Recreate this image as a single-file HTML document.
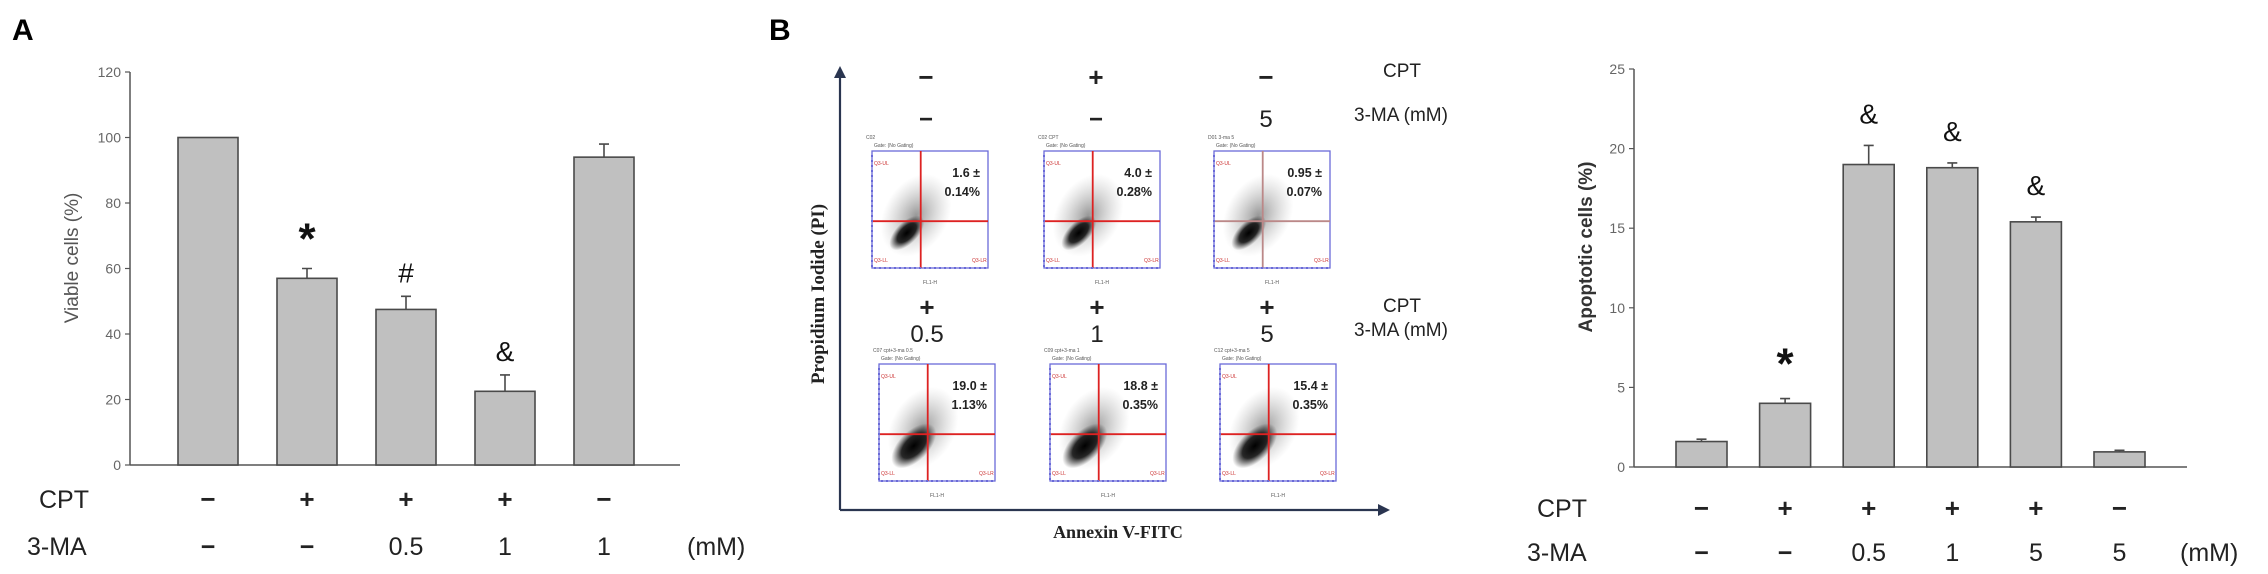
<!DOCTYPE html>
<html><head><meta charset="utf-8"><style>
html,body{margin:0;padding:0;background:#fff;}
svg{display:block;font-family:"Liberation Sans",sans-serif;}
</style></head><body>
<svg id="fig" width="2268" height="574" viewBox="0 0 2268 574" xmlns="http://www.w3.org/2000/svg">
<defs>
<radialGradient id="blob" cx="50%" cy="50%" r="50%">
<stop offset="0%" stop-color="#000" stop-opacity="1"/>
<stop offset="55%" stop-color="#111" stop-opacity="0.9"/>
<stop offset="100%" stop-color="#333" stop-opacity="0"/>
</radialGradient>
<radialGradient id="haze" cx="50%" cy="50%" r="50%">
<stop offset="0%" stop-color="#444" stop-opacity="0.55"/>
<stop offset="100%" stop-color="#888" stop-opacity="0"/>
</radialGradient>
</defs>
<text x="12" y="40" font-size="30" font-weight="bold">A</text>
<text x="769" y="40" font-size="30" font-weight="bold">B</text>
<g id="chartA"></g>
<g id="flow"></g>
<g id="chartC"></g>
</svg>
<script>
// Panel A data
const aValues = [100, 57, 47.5, 22.5, 94];
const aErrors = [0, 3, 4, 5, 4];
const aMarks = ["", "*", "#", "&", ""];
const aCpt = ["−", "+", "+", "+", "−"];
const aMa = ["−", "−", "0.5", "1", "1"];
const aTicks = [0, 20, 40, 60, 80, 100, 120];
// Panel C data
const cValues = [1.6, 4.0, 19.0, 18.8, 15.4, 0.95];
const cErrors = [0.15, 0.3, 1.2, 0.3, 0.3, 0.1];
const cMarks = ["", "*", "&", "&", "&", ""];
const cCpt = ["−", "+", "+", "+", "+", "−"];
const cMa = ["−", "−", "0.5", "1", "5", "5"];
const cTicks = [0, 5, 10, 15, 20, 25];
// Flow data
const flowCpt = ["−", "+", "−", "+", "+", "+"];
const flowMa = ["−", "−", "5", "0.5", "1", "5"];
const flowMean = ["1.6 ±", "4.0 ±", "0.95 ±", "19.0 ±", "18.8 ±", "15.4 ±"];
const flowSd = ["0.14%", "0.28%", "0.07%", "1.13%", "0.35%", "0.35%"];
const flowNames = ["C02", "C02 CPT", "D01 3-ma 5", "C07 cpt+3-ma 0.5", "C09 cpt+3-ma 1", "C12 cpt+3-ma 5"];

const NS = "http://www.w3.org/2000/svg";
function mk(parent, tag, attrs, text){
  const e = document.createElementNS(NS, tag);
  for (const k in attrs) e.setAttribute(k, attrs[k]);
  if (text !== undefined) e.textContent = text;
  parent.appendChild(e);
  return e;
}

function barChart(g, cfg, values, errors, marks, cpt, ma, ticks){
  const y = v => cfg.y0 - v / cfg.max * (cfg.y0 - cfg.yTop);
  const cx = i => cfg.x0 + i * cfg.step;
  const ax = mk(g, "line", {x1:cfg.axX, y1:cfg.yTop, x2:cfg.axX, y2:cfg.y0, stroke:"#555", "stroke-width":1.5});
  
  
  const bx = mk(g, "line", {x1:cfg.axX, y1:cfg.y0, x2:cfg.axEnd, y2:cfg.y0, stroke:"#555", "stroke-width":1.5});
  
  
  ticks.forEach(t => {
    const tk = mk(g, "line", {x1:cfg.axX-5, y1:y(t), x2:cfg.axX, y2:y(t), stroke:"#555", "stroke-width":1.2});
    
    
    const tl = mk(g, "text", {x:cfg.axX-9, y:y(t)+5, "font-size":14, fill:"#666", "text-anchor":"end"}, t);
    
    
  });
  const yl = mk(g, "text", {x:0, y:0, "font-size":cfg.ylSize, fill:cfg.ylColor, "font-weight":cfg.ylWeight, "text-anchor":"middle", transform:`translate(${cfg.ylX},${cfg.ylY}) rotate(-90)`}, cfg.ylabel);
  
  
  values.forEach((v, i) => {
    const b = mk(g, "rect", {x:cx(i)-cfg.bw/2, y:y(v), width:cfg.bw, height:cfg.y0-y(v), fill:"#c0c0c0", stroke:"#4a4a4a", "stroke-width":1.6});
    
    
    if (errors[i] > 0){
      const top = y(v + errors[i]);
      const el = mk(g, "path", {d:`M${cx(i)},${y(v)} V${top} M${cx(i)-5},${top} H${cx(i)+5}`, stroke:"#4a4a4a", "stroke-width":1.6, fill:"none"});
      
      
    }
    if (marks[i]){
      const star = marks[i] === "*";
      const top = y(v + errors[i]);
      const m = mk(g, "text", {x:cx(i), y: star ? top + cfg.starOff : top + cfg.markOff, "font-size":star?44:28, "text-anchor":"middle", fill:"#111", "font-weight":star?"bold":"normal"}, marks[i]);
      
      
    }
    const c = mk(g, "text", {x:cx(i), y:cfg.cptY+9, "font-size":26, "font-weight":"bold", "text-anchor":"middle", fill:"#222"}, cpt[i]);
    
    
    const m2 = mk(g, "text", {x:cx(i), y:cfg.maY+9, "font-size":25, "text-anchor":"middle", fill:"#222", "font-weight":ma[i]==="−"?"bold":"normal"}, ma[i]);
    
    
  });
  const l1 = mk(g, "text", {x:cfg.cptX, y:cfg.cptY+9, "font-size":25, fill:"#222"}, "CPT");
  
  
  const l2 = mk(g, "text", {x:cfg.maX, y:cfg.maY+9, "font-size":25, fill:"#222"}, "3-MA");
  
  
  const l3 = mk(g, "text", {x:cfg.mmX, y:cfg.maY+9, "font-size":25, fill:"#222"}, "(mM)");
  
  
}

barChart(document.getElementById("chartA"), {
  axX:130, axEnd:680, y0:465, yTop:72, max:120, x0:208, step:99, bw:60,
  ylabel:"Viable cells (%)", ylX:78, ylY:258, ylSize:19, ylColor:"#555", ylWeight:"normal",
  cptY:499, maY:546, cptX:39, maX:27, mmX:687, starOff:-15, markOff:-14
}, aValues, aErrors, aMarks, aCpt, aMa, aTicks);

barChart(document.getElementById("chartC"), {
  axX:1634, axEnd:2187, y0:467, yTop:69, max:25, x0:1701.5, step:83.6, bw:51,
  ylabel:"Apoptotic cells (%)", ylX:1592, ylY:247, ylSize:19, ylColor:"#333", ylWeight:"bold",
  cptY:508, maY:552, cptX:1537, maX:1527, mmX:2180, starOff:-20, markOff:-22
}, cValues, cErrors, cMarks, cCpt, cMa, cTicks);

// Flow panel
const fg = document.getElementById("flow");
const axes = mk(fg, "path", {d:"M840,510 V72 M840,510 H1384", stroke:"#2a3550", "stroke-width":2.2, fill:"none"});


const arr = mk(fg, "path", {d:"M834,78 L840,66 L846,78 Z M1378,504 L1390,510 L1378,516 Z", fill:"#2a3550"});


const pil = mk(fg, "text", {x:0, y:0, "font-family":"Liberation Serif, serif", "font-size":19, "font-weight":"bold", fill:"#222", "text-anchor":"middle", transform:"translate(824,294) rotate(-90)"}, "Propidium Iodide (PI)");


const axl = mk(fg, "text", {x:1118, y:538, "font-family":"Liberation Serif, serif", "font-size":18, "font-weight":"bold", fill:"#222", "text-anchor":"middle"}, "Annexin V-FITC");


[[70,114],[305,329]].forEach((r, k) => {
  const t1 = mk(fg, "text", {x:1383, y:r[0]+7, "font-size":19, fill:"#222"}, "CPT");
  
  
  const t2 = mk(fg, "text", {x:1354, y:r[1]+7, "font-size":19, fill:"#222"}, "3-MA (mM)");
  
  
});
const colX = [[926,1096,1266],[927,1097,1267]];
const boxX = [[872,1044,1214],[879,1050,1220]];
const rowCpt = [77,307], rowMa = [118,333], boxY = [151,364];
flowCpt.forEach((c, i) => {
  const r = Math.floor(i/3), k = i%3;
  const t = mk(fg, "text", {x:colX[r][k], y:rowCpt[r]+9, "font-size":26, "font-weight":"bold", "text-anchor":"middle", fill:"#222"}, c);
  
  
  const m = mk(fg, "text", {x:colX[r][k], y:rowMa[r]+9, "font-size":24, "font-weight":flowMa[i]==="−"?"bold":"normal", "text-anchor":"middle", fill:"#222"}, flowMa[i]);
  
  
  const x = boxX[r][k], y = boxY[r], w = 116, h = 117;
  const g = mk(fg, "g", {});
  
  
  mk(g, "text", {x:x-6, y:y-12, "font-size":5, fill:"#555"}, flowNames[i]);
  mk(g, "text", {x:x+2, y:y-4, "font-size":5, fill:"#555"}, "Gate: (No Gating)");
  mk(g, "ellipse", {cx:x+w*0.38, cy:y+h*0.55, rx:32, ry:44, fill:"url(#haze)", transform:`rotate(30 ${x+w*0.38} ${y+h*0.55})`});
  mk(g, "ellipse", {cx:x+w*0.3, cy:y+h*0.7, rx:11 + (r?4:0), ry:22 + (r?6:0), fill:"url(#blob)", transform:`rotate(45 ${x+w*0.3} ${y+h*0.7})`});
  mk(g, "rect", {x:x, y:y, width:w, height:h, fill:"none", stroke:"#6a6ad8", "stroke-width":1.3});
  const red = k===2 && r===0 ? "#b88" : "#d22";
  mk(g, "path", {d:`M${x+w*0.42},${y} V${y+h} M${x},${y+h*0.6} H${x+w}`, stroke:red, "stroke-width":1.8, fill:"none"});
  mk(g, "path", {d:`M${x},${y+4} V${y+h} H${x+w}`, stroke:"#6a6ad8", "stroke-width":2, "stroke-dasharray":"2 3", fill:"none"});
  mk(g, "text", {x:x+w-8, y:y+26, "font-size":12.5, "font-weight":"bold", "text-anchor":"end", fill:"#222"}, flowMean[i]);
  mk(g, "text", {x:x+w-8, y:y+45, "font-size":12.5, "font-weight":"bold", "text-anchor":"end", fill:"#222"}, flowSd[i]);
  mk(g, "text", {x:x+2, y:y+14, "font-size":5, fill:"#c33"}, "Q3-UL");
  mk(g, "text", {x:x+2, y:y+h-6, "font-size":5, fill:"#c33"}, "Q3-LL");
  mk(g, "text", {x:x+w-16, y:y+h-6, "font-size":5, fill:"#c33"}, "Q3-LR");
  mk(g, "text", {x:x+w/2, y:y+h+16, "font-size":5, fill:"#555", "text-anchor":"middle"}, "FL1-H");
});
</script>
</body></html>
